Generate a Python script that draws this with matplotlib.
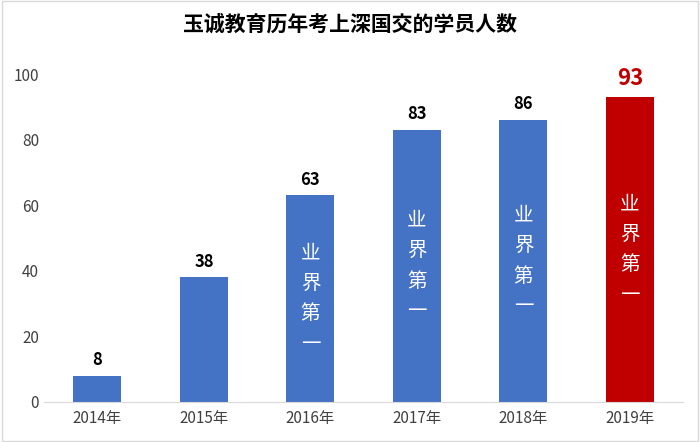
import matplotlib
matplotlib.use("Agg")
import matplotlib.pyplot as plt
from matplotlib import font_manager as fm
from matplotlib.patches import Rectangle

cjk = [f for f in fm.findSystemFonts() if "CJK" in f or "cjk" in f.lower()]
cjk_sc = [f for f in cjk if "SC" in f] or cjk
if cjk_sc:
    for f in cjk_sc:
        try:
            fm.fontManager.addfont(f)
        except Exception:
            pass
    names = [fm.FontProperties(fname=f).get_name() for f in cjk_sc]
    plt.rcParams["font.family"] = "sans-serif"
    plt.rcParams["font.sans-serif"] = names + ["Noto Sans CJK SC", "Noto Sans CJK JP", "DejaVu Sans"]
else:
    plt.rcParams["font.family"] = ["Noto Sans CJK SC", "Noto Sans CJK JP", "DejaVu Sans"]

years = ["2014年", "2015年", "2016年", "2017年", "2018年", "2019年"]
values = [8, 38, 63, 83, 86, 93]
colors = ["#4472C4"] * 5 + ["#C00000"]
inner_text = ["", "", "业界第一", "业界第一", "业界第一", "业界第一"]
title = "玉诚教育历年考上深国交的学员人数"

fig = plt.figure(figsize=(7, 4.42), dpi=100)
fig.patches.append(Rectangle((0.003, 0.003), 0.994, 0.994, transform=fig.transFigure,
                             fill=False, edgecolor="#D9D9D9", linewidth=1))
ax = fig.add_axes([0.063, 0.0905, 0.913, 0.742])
x = range(len(years))
ax.bar(x, values, width=0.45, color=colors)
ax.set_xlim(-0.5, len(years) - 0.5)
ax.set_ylim(0, 100)
ax.set_yticks(range(0, 101, 20))
ax.set_xticks(list(x))
ax.set_xticklabels(years)
ax.tick_params(length=0, labelsize=11, colors="#404040")
ax.tick_params(axis="x", pad=6)
for s in ["top", "right", "left"]:
    ax.spines[s].set_visible(False)
ax.spines["bottom"].set_color("#D9D9D9")

for i, v in enumerate(values):
    if i == len(values) - 1:
        ax.text(i, v + 2, str(v), ha="center", va="bottom", fontsize=16,
                fontweight="bold", color="#C00000")
    else:
        ax.text(i, v + 2, str(v), ha="center", va="bottom", fontsize=12,
                fontweight="bold", color="black")
    if inner_text[i]:
        ax.text(i, v / 2, "\n".join(inner_text[i]), ha="center", va="center",
                fontsize=14, color="white", linespacing=1.6)

fig.text(0.5, 0.945, title, ha="center", va="center", fontsize=15,
         fontweight="bold", color="black")
fig.savefig("out.png", dpi=100)
